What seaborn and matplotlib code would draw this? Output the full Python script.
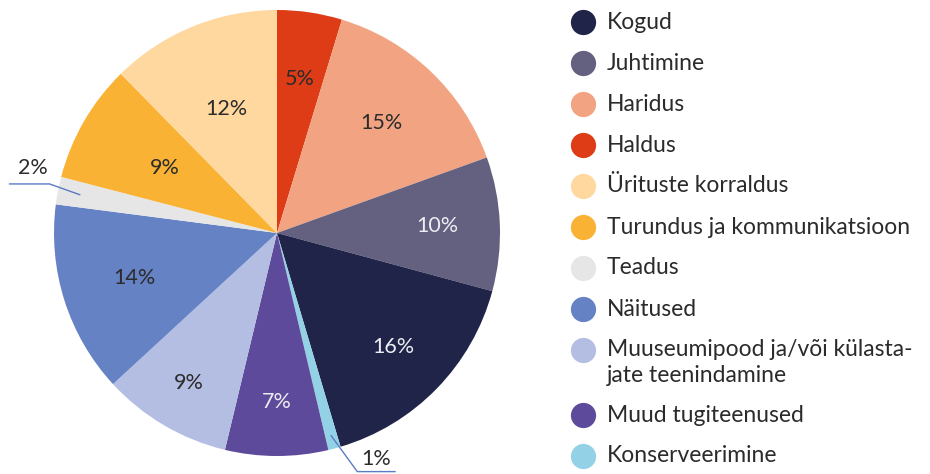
import numpy as np
import matplotlib
matplotlib.use("Agg")
import matplotlib.pyplot as plt
import seaborn as sns

sns.set_theme(style="white")
plt.rcParams['font.family'] = ['Lato', 'DejaVu Sans']

# slices, clockwise from the top
categories = ['Haldus', 'Haridus', 'Juhtimine', 'Kogud', 'Konserveerimine',
              'Muud tugiteenused', 'Muuseumipood ja/või külasta-\njate teenindamine',
              'Näitused', 'Teadus', 'Turundus ja kommunikatsioon', 'Ürituste korraldus']
shares = [4.7, 14.8, 9.7, 16.2, 0.9, 7.45, 9.4, 13.9, 2.0, 8.6, 12.35]
colors = ['#de3c16', '#f2a482', '#646080', '#1f2448', '#93d2e6',
          '#5e4a9a', '#b4bee2', '#6582c4', '#e6e6e6', '#f9b234', '#fed89f']
light_text = ['Juhtimine', 'Kogud', 'Muud tugiteenused']
outside = ['Konserveerimine', 'Teadus']
label_dist = [0.70, 0.68, 0.72, 0.73, 0, 0.76, 0.78, 0.67, 0, 0.58, 0.60]

# legend order as in the original
legend_order = ['Kogud', 'Juhtimine', 'Haridus', 'Haldus', 'Ürituste korraldus',
                'Turundus ja kommunikatsioon', 'Teadus', 'Näitused',
                'Muuseumipood ja/või külasta-\njate teenindamine',
                'Muud tugiteenused', 'Konserveerimine']

W, H = 930, 474
fig = plt.figure(figsize=(W / 100, H / 100), dpi=100)
txt = '#2b2b2b'

cx, cy, r = 277, 233, 223
ax = fig.add_axes([(cx - r) / W, (H - cy - r) / H, 2 * r / W, 2 * r / H])
wedges, texts = ax.pie(shares, colors=colors, startangle=90, counterclock=False,
                       radius=1, wedgeprops=dict(linewidth=0))
ax.set_xlim(-1, 1)
ax.set_ylim(-1, 1)
ax.set_aspect('equal')
ax.axis('off')


def mid_point(i, rad):
    w = wedges[i]
    ang = np.deg2rad((w.theta1 + w.theta2) / 2)
    return rad * np.cos(ang), rad * np.sin(ang)


for i, cat in enumerate(categories):
    if cat in outside:
        continue
    x, y = mid_point(i, label_dist[i])
    ax.text(x, y, '%.0f%%' % shares[i], ha='center', va='center', fontsize=15.5,
            color='#ececf2' if cat in light_text else txt)

# outside labels with leader lines for the small slices
line_col = '#5b7bc4'
i_te = categories.index('Teadus')
px, py = mid_point(i_te, 0.9)
ax.plot([-1.20, -1.02, px], [0.22, 0.22, py], color=line_col, lw=1, clip_on=False)
ax.text(-1.095, 0.245, '%.0f%%' % shares[i_te], ha='center', va='bottom',
        fontsize=15.5, color=txt)

i_ko = categories.index('Konserveerimine')
px, py = mid_point(i_ko, 0.94)
ax.plot([px, 0.36, 0.53], [py, -1.07, -1.07], color=line_col, lw=1, clip_on=False)
ax.text(0.445, -1.06, '%.0f%%' % shares[i_ko], ha='center', va='bottom',
        fontsize=15.5, color=txt)

# legend drawn in pixel space
lg = fig.add_axes([0, 0, 1, 1])
lg.set_xlim(0, W)
lg.set_ylim(H, 0)
lg.axis('off')
y = 22
for cat in legend_order:
    c = colors[categories.index(cat)]
    lg.scatter([583], [y], s=330, color=c, linewidths=0)
    if '\n' in cat:
        lg.text(607, y - 11, cat, ha='left', va='top', fontsize=16.5, color=txt,
                linespacing=1.3)
        y += 65
    else:
        lg.text(607, y, cat, ha='left', va='center', fontsize=16.5, color=txt)
        y += 41

fig.savefig('out.png', dpi=100)
